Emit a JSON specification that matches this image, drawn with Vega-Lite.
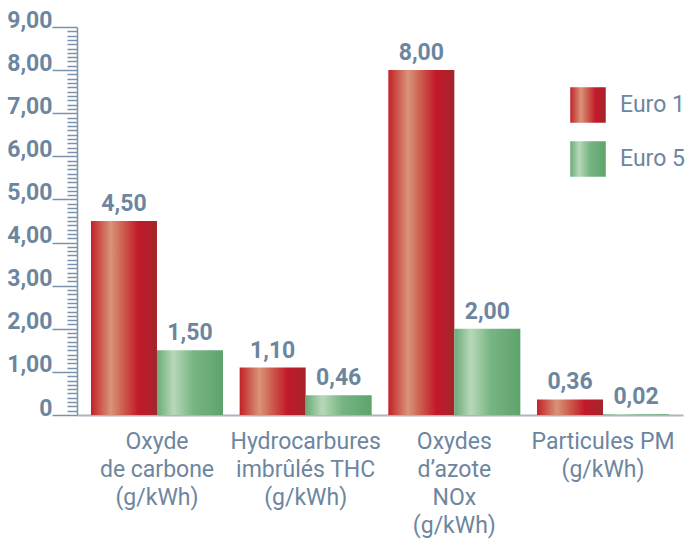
{
 "$schema": "https://vega.github.io/schema/vega-lite/v6.json",
 "width": 606, "height": 388,
 "autosize": "none",
 "padding": {"left": 77, "top": 27, "right": 4, "bottom": 132},
 "config": {
  "locale": {"number": {"decimal": ",", "thousands": ".", "grouping": [3], "currency": ["", " €"]}},
  "view": {"stroke": null},
  "font": "Roboto"
 },
 "data": {"values": [
  {"cat": "Oxyde|de carbone|(g/kWh)", "serie": "Euro 1", "v": 4.5},
  {"cat": "Oxyde|de carbone|(g/kWh)", "serie": "Euro 5", "v": 1.5},
  {"cat": "Hydrocarbures|imbrûlés THC|(g/kWh)", "serie": "Euro 1", "v": 1.1},
  {"cat": "Hydrocarbures|imbrûlés THC|(g/kWh)", "serie": "Euro 5", "v": 0.46},
  {"cat": "Oxydes|d’azote|NOx|(g/kWh)", "serie": "Euro 1", "v": 8.0},
  {"cat": "Oxydes|d’azote|NOx|(g/kWh)", "serie": "Euro 5", "v": 2.0},
  {"cat": "Particules PM|(g/kWh)", "serie": "Euro 1", "v": 0.36},
  {"cat": "Particules PM|(g/kWh)", "serie": "Euro 5", "v": 0.02}
 ]},
 "encoding": {
  "x": {"field": "cat", "type": "nominal", "sort": null,
   "scale": {"paddingInner": 0.112, "paddingOuter": 0.094},
   "axis": {"title": null, "labelAngle": 0, "ticks": false, "labelPadding": 15, "labelFontSize": 23, "labelColor": "#6d86a0", "labelLineHeight": 28, "labelBaseline": "top", "domainColor": "#aab6c4", "domainWidth": 2, "labelExpr": "split(datum.label, '|')"}},
  "xOffset": {"field": "serie", "type": "nominal", "sort": ["Euro 1", "Euro 5"]},
  "y": {"field": "v", "type": "quantitative",
   "scale": {"domain": [0, 9], "nice": false},
   "axis": {"title": null, "grid": false,
    "values": [0,0.1,0.2,0.3,0.4,0.5,0.6,0.7,0.8,0.9,1,1.1,1.2,1.3,1.4,1.5,1.6,1.7,1.8,1.9,2,2.1,2.2,2.3,2.4,2.5,2.6,2.7,2.8,2.9,3,3.1,3.2,3.3,3.4,3.5,3.6,3.7,3.8,3.9,4,4.1,4.2,4.3,4.4,4.5,4.6,4.7,4.8,4.9,5,5.1,5.2,5.3,5.4,5.5,5.6,5.7,5.8,5.9,6,6.1,6.2,6.3,6.4,6.5,6.6,6.7,6.8,6.9,7,7.1,7.2,7.3,7.4,7.5,7.6,7.7,7.8,7.9,8,8.1,8.2,8.3,8.4,8.5,8.6,8.7,8.8,8.9,9],
    "labelExpr": "datum.value % 1 === 0 ? (datum.value === 0 ? '0' : replace(format(datum.value, '.2f'), '.', ',')) : ''",
    "tickSize": {"condition": {"test": "datum.value % 1 === 0", "value": 25}, "value": 10},
    "labelPadding": 0, "labelBaseline": "alphabetic", "labelFontSize": 23, "labelFontWeight": "bold", "labelColor": "#6d86a0",
    "labelOverlap": false, "labelFlush": false,
    "tickColor": "#7a92aa", "tickWidth": 1.5, "domainColor": "#7a92aa", "domainWidth": 1.5}}
 },
 "layer": [
  {"mark": {"type": "bar"},
   "encoding": {"color": {"field": "serie", "type": "nominal",
    "scale": {"domain": ["Euro 1", "Euro 5"], "range": [
     {"expr": "{gradient: 'linear', x1: 0, y1: 0, x2: 1, y2: 0, stops: [{offset: 0, color: '#c22229'}, {offset: 0.3, color: '#d99479'}, {offset: 0.5, color: '#cc5a4c'}, {offset: 0.72, color: '#c3192a'}, {offset: 1, color: '#a3252b'}]}"},
     {"expr": "{gradient: 'linear', x1: 0, y1: 0, x2: 1, y2: 0, stops: [{offset: 0, color: '#6aab78'}, {offset: 0.25, color: '#b8d8b8'}, {offset: 0.55, color: '#78b584'}, {offset: 1, color: '#5ea36c'}]}"}
    ]},
    "legend": {"title": null, "orient": "none", "legendX": 493, "legendY": 60, "symbolType": "square", "symbolSize": 1260, "symbolStrokeWidth": 0, "labelFontSize": 23, "labelColor": "#6d86a0", "labelOffset": 14, "rowPadding": 18, "labelFont": "Roboto"}}}},
  {"mark": {"type": "text", "dy": -10, "baseline": "alphabetic", "fontWeight": "bold", "fontSize": 23, "color": "#6d86a0"},
   "encoding": {"text": {"field": "v", "type": "quantitative", "format": ".2f"}}}
 ]
}
